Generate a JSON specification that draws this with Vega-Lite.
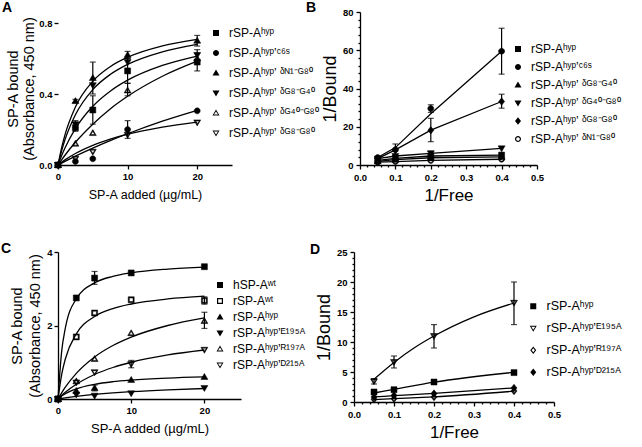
{
"$schema": "https://vega.github.io/schema/vega-lite/v6.json",
"padding": {"left": 1, "top": 1, "right": 0, "bottom": 0},
"config": {
 "font": "Liberation Sans",
 "view": {"stroke": null},
 "axis": {"grid": false, "domainColor": "black", "domainWidth": 1.3, "tickColor": "black", "tickWidth": 1.3, "tickSize": 4, "labelFont": "Liberation Sans", "labelFontSize": 9.5, "labelFontWeight": "bold", "labelColor": "black", "labelPadding": 2, "labelFlush": false, "labelOverlap": false, "titleFont": "Liberation Sans", "titleFontWeight": "normal", "titleColor": "black"},
 "legend": {"orient": "none", "padding": 0, "symbolSize": 100, "symbolStrokeWidth": 1.1, "labelFont": "Liberation Sans", "labelFontSize": 12, "labelColor": "black", "labelOffset": 7, "labelLimit": 300},
 "title": {"font": "Liberation Sans", "fontSize": 14, "fontWeight": "bold", "color": "black", "anchor": "start", "frame": "group", "offset": 0}
},
"datasets": {
 "A_pts": [
  {"s":"rSP-Aʰʸᵖ","x":0,"y":0},{"s":"rSP-Aʰʸᵖ","x":2.5,"y":0.21,"lo":0.19,"hi":0.24},{"s":"rSP-Aʰʸᵖ","x":5,"y":0.31,"lo":0.23,"hi":0.39},{"s":"rSP-Aʰʸᵖ","x":10,"y":0.53,"lo":0.46,"hi":0.6},{"s":"rSP-Aʰʸᵖ","x":20,"y":0.58,"lo":0.53,"hi":0.63},
  {"s":"rSP-Aʰʸᵖʼᶜ⁶ˢ","x":0,"y":0},{"s":"rSP-Aʰʸᵖʼᶜ⁶ˢ","x":2.5,"y":0.02},{"s":"rSP-Aʰʸᵖʼᶜ⁶ˢ","x":5,"y":0.035},{"s":"rSP-Aʰʸᵖʼᶜ⁶ˢ","x":10,"y":0.2,"lo":0.15,"hi":0.25},{"s":"rSP-Aʰʸᵖʼᶜ⁶ˢ","x":20,"y":0.305},
  {"s":"rSP-Aʰʸᵖʼ ᵟᴺ¹⁻ᴳ⁸⁰","x":0,"y":0},{"s":"rSP-Aʰʸᵖʼ ᵟᴺ¹⁻ᴳ⁸⁰","x":2.5,"y":0.36,"lo":0.35,"hi":0.37},{"s":"rSP-Aʰʸᵖʼ ᵟᴺ¹⁻ᴳ⁸⁰","x":5,"y":0.49,"lo":0.4,"hi":0.58},{"s":"rSP-Aʰʸᵖʼ ᵟᴺ¹⁻ᴳ⁸⁰","x":10,"y":0.62,"lo":0.6,"hi":0.64},{"s":"rSP-Aʰʸᵖʼ ᵟᴺ¹⁻ᴳ⁸⁰","x":20,"y":0.7,"lo":0.67,"hi":0.73},
  {"s":"rSP-Aʰʸᵖʼ ᵟᴳ⁸⁻ᴳ⁴⁰","x":0,"y":0},{"s":"rSP-Aʰʸᵖʼ ᵟᴳ⁸⁻ᴳ⁴⁰","x":2.5,"y":0.23,"lo":0.21,"hi":0.25},{"s":"rSP-Aʰʸᵖʼ ᵟᴳ⁸⁻ᴳ⁴⁰","x":5,"y":0.45},{"s":"rSP-Aʰʸᵖʼ ᵟᴳ⁸⁻ᴳ⁴⁰","x":10,"y":0.58},{"s":"rSP-Aʰʸᵖʼ ᵟᴳ⁸⁻ᴳ⁴⁰","x":20,"y":0.62,"lo":0.59,"hi":0.65},
  {"s":"rSP-Aʰʸᵖʼ ᵟᴳ⁴⁰⁻ᴳ⁸⁰","x":0,"y":0},{"s":"rSP-Aʰʸᵖʼ ᵟᴳ⁴⁰⁻ᴳ⁸⁰","x":2.5,"y":0.12},{"s":"rSP-Aʰʸᵖʼ ᵟᴳ⁴⁰⁻ᴳ⁸⁰","x":5,"y":0.18},{"s":"rSP-Aʰʸᵖʼ ᵟᴳ⁴⁰⁻ᴳ⁸⁰","x":10,"y":0.42,"lo":0.39,"hi":0.46},{"s":"rSP-Aʰʸᵖʼ ᵟᴳ⁴⁰⁻ᴳ⁸⁰","x":20,"y":0.6},
  {"s":"rSP-Aʰʸᵖʼ ᵟᴳ⁸⁻ᴳ⁸⁰","x":0,"y":0},{"s":"rSP-Aʰʸᵖʼ ᵟᴳ⁸⁻ᴳ⁸⁰","x":2.5,"y":0.035},{"s":"rSP-Aʰʸᵖʼ ᵟᴳ⁸⁻ᴳ⁸⁰","x":5,"y":0.075},{"s":"rSP-Aʰʸᵖʼ ᵟᴳ⁸⁻ᴳ⁸⁰","x":10,"y":0.17},{"s":"rSP-Aʰʸᵖʼ ᵟᴳ⁸⁻ᴳ⁸⁰","x":20,"y":0.24}
 ],
 "A_fit": [
  {"s":"N1","x":0,"y":0},{"s":"N1","x":0.5,"y":0.094},{"s":"N1","x":1,"y":0.17},{"s":"N1","x":2.5,"y":0.327},{"s":"N1","x":5,"y":0.472},{"s":"N1","x":7.5,"y":0.554},{"s":"N1","x":10,"y":0.607},{"s":"N1","x":15,"y":0.671},{"s":"N1","x":20,"y":0.708},
  {"s":"G840","x":0,"y":0},{"s":"G840","x":0.5,"y":0.077},{"s":"G840","x":1,"y":0.142},{"s":"G840","x":2.5,"y":0.283},{"s":"G840","x":5,"y":0.425},{"s":"G840","x":7.5,"y":0.51},{"s":"G840","x":10,"y":0.567},{"s":"G840","x":15,"y":0.638},{"s":"G840","x":20,"y":0.68},
  {"s":"H","x":0,"y":0},{"s":"H","x":0.5,"y":0.051},{"s":"H","x":1,"y":0.096},{"s":"H","x":2.5,"y":0.205},{"s":"H","x":5,"y":0.331},{"s":"H","x":7.5,"y":0.416},{"s":"H","x":10,"y":0.478},{"s":"H","x":15,"y":0.561},{"s":"H","x":20,"y":0.614},
  {"s":"G4080","x":0,"y":0},{"s":"G4080","x":0.5,"y":0.028},{"s":"G4080","x":1,"y":0.055},{"s":"G4080","x":2.5,"y":0.128},{"s":"G4080","x":5,"y":0.23},{"s":"G4080","x":7.5,"y":0.316},{"s":"G4080","x":10,"y":0.387},{"s":"G4080","x":15,"y":0.5},{"s":"G4080","x":20,"y":0.585},
  {"s":"C6","x":0,"y":0},{"s":"C6","x":0.5,"y":0.01},{"s":"C6","x":1,"y":0.02},{"s":"C6","x":2.5,"y":0.05},{"s":"C6","x":5,"y":0.095},{"s":"C6","x":7.5,"y":0.137},{"s":"C6","x":10,"y":0.176},{"s":"C6","x":15,"y":0.247},{"s":"C6","x":20,"y":0.308},
  {"s":"G880","x":0,"y":0},{"s":"G880","x":0.5,"y":0.015},{"s":"G880","x":1,"y":0.029},{"s":"G880","x":2.5,"y":0.065},{"s":"G880","x":5,"y":0.111},{"s":"G880","x":7.5,"y":0.146},{"s":"G880","x":10,"y":0.174},{"s":"G880","x":15,"y":0.214},{"s":"G880","x":20,"y":0.242}
 ],
 "B_pts": [
  {"s":"rSP-Aʰʸᵖ","x":0.05,"y":2.4},{"s":"rSP-Aʰʸᵖ","x":0.1,"y":3.5},{"s":"rSP-Aʰʸᵖ","x":0.2,"y":4.7},{"s":"rSP-Aʰʸᵖ","x":0.4,"y":5.2},
  {"s":"rSP-Aʰʸᵖʼᶜ⁶ˢ","x":0.05,"y":3.9},{"s":"rSP-Aʰʸᵖʼᶜ⁶ˢ","x":0.1,"y":8.0,"lo":5.0,"hi":11.0},{"s":"rSP-Aʰʸᵖʼᶜ⁶ˢ","x":0.2,"y":29.5,"lo":27.5,"hi":31.5},{"s":"rSP-Aʰʸᵖʼᶜ⁶ˢ","x":0.4,"y":59.5,"lo":47.5,"hi":71.5},
  {"s":"rSP-Aʰʸᵖʼ ᵟᴳ⁸⁻ᴳ⁴⁰","x":0.05,"y":1.9},{"s":"rSP-Aʰʸᵖʼ ᵟᴳ⁸⁻ᴳ⁴⁰","x":0.1,"y":2.8},{"s":"rSP-Aʰʸᵖʼ ᵟᴳ⁸⁻ᴳ⁴⁰","x":0.2,"y":3.8},{"s":"rSP-Aʰʸᵖʼ ᵟᴳ⁸⁻ᴳ⁴⁰","x":0.4,"y":4.2},
  {"s":"rSP-Aʰʸᵖʼ ᵟᴳ⁴⁰⁻ᴳ⁸⁰","x":0.05,"y":3.3},{"s":"rSP-Aʰʸᵖʼ ᵟᴳ⁴⁰⁻ᴳ⁸⁰","x":0.1,"y":4.7},{"s":"rSP-Aʰʸᵖʼ ᵟᴳ⁴⁰⁻ᴳ⁸⁰","x":0.2,"y":6.1,"lo":5.0,"hi":7.2},{"s":"rSP-Aʰʸᵖʼ ᵟᴳ⁴⁰⁻ᴳ⁸⁰","x":0.4,"y":8.7},
  {"s":"rSP-Aʰʸᵖʼ ᵟᴳ⁸⁻ᴳ⁸⁰","x":0.05,"y":3.3},{"s":"rSP-Aʰʸᵖʼ ᵟᴳ⁸⁻ᴳ⁸⁰","x":0.1,"y":7.9},{"s":"rSP-Aʰʸᵖʼ ᵟᴳ⁸⁻ᴳ⁸⁰","x":0.2,"y":18.2,"lo":12.2,"hi":24.4},{"s":"rSP-Aʰʸᵖʼ ᵟᴳ⁸⁻ᴳ⁸⁰","x":0.4,"y":33.2,"lo":29.7,"hi":37.0},
  {"s":"rSP-Aʰʸᵖʼ ᵟᴺ¹⁻ᴳ⁸⁰","x":0.05,"y":1.5},{"s":"rSP-Aʰʸᵖʼ ᵟᴺ¹⁻ᴳ⁸⁰","x":0.1,"y":1.8},{"s":"rSP-Aʰʸᵖʼ ᵟᴺ¹⁻ᴳ⁸⁰","x":0.2,"y":2.4},{"s":"rSP-Aʰʸᵖʼ ᵟᴺ¹⁻ᴳ⁸⁰","x":0.4,"y":3.0}
 ],
 "B_fit": [
  {"s":"H","x":0.05,"y":2.4},{"s":"H","x":0.1,"y":3.5},{"s":"H","x":0.2,"y":4.7},{"s":"H","x":0.4,"y":5.2},
  {"s":"C6","x":0.05,"y":3.9},{"s":"C6","x":0.1,"y":9.1},{"s":"C6","x":0.2,"y":26.8},{"s":"C6","x":0.4,"y":59.5},
  {"s":"G840","x":0.05,"y":1.9},{"s":"G840","x":0.1,"y":2.8},{"s":"G840","x":0.2,"y":3.8},{"s":"G840","x":0.4,"y":4.2},
  {"s":"G4080","x":0.05,"y":3.3},{"s":"G4080","x":0.1,"y":4.7},{"s":"G4080","x":0.2,"y":6.1},{"s":"G4080","x":0.4,"y":8.7},
  {"s":"G880","x":0.05,"y":3.3},{"s":"G880","x":0.1,"y":7.9},{"s":"G880","x":0.2,"y":18.2},{"s":"G880","x":0.4,"y":33.2},
  {"s":"N1","x":0.05,"y":1.5},{"s":"N1","x":0.1,"y":1.8},{"s":"N1","x":0.2,"y":2.4},{"s":"N1","x":0.4,"y":3.0}
 ],
 "C_pts": [
  {"s":"hSP-Aʷᵗ","x":0,"y":0},{"s":"hSP-Aʷᵗ","x":2.5,"y":2.75},{"s":"hSP-Aʷᵗ","x":5,"y":3.29,"lo":3.12,"hi":3.47},{"s":"hSP-Aʷᵗ","x":10,"y":3.43},{"s":"hSP-Aʷᵗ","x":20,"y":3.6},
  {"s":"rSP-Aʷᵗ","x":0,"y":0},{"s":"rSP-Aʷᵗ","x":2.5,"y":1.69},{"s":"rSP-Aʷᵗ","x":5,"y":2.34},{"s":"rSP-Aʷᵗ","x":10,"y":2.7},{"s":"rSP-Aʷᵗ","x":20,"y":2.68,"lo":2.58,"hi":2.78},
  {"s":"rSP-Aʰʸᵖ","x":0,"y":0},{"s":"rSP-Aʰʸᵖ","x":2.5,"y":0.22},{"s":"rSP-Aʰʸᵖ","x":5,"y":0.3,"lo":0.22,"hi":0.38},{"s":"rSP-Aʰʸᵖ","x":10,"y":0.52},{"s":"rSP-Aʰʸᵖ","x":20,"y":0.6},
  {"s":"rSP-Aʰʸᵖʼᴱ¹⁹⁵ᴬ","x":0,"y":0},{"s":"rSP-Aʰʸᵖʼᴱ¹⁹⁵ᴬ","x":2.5,"y":0.12},{"s":"rSP-Aʰʸᵖʼᴱ¹⁹⁵ᴬ","x":5,"y":0.09},{"s":"rSP-Aʰʸᵖʼᴱ¹⁹⁵ᴬ","x":10,"y":0.155},{"s":"rSP-Aʰʸᵖʼᴱ¹⁹⁵ᴬ","x":20,"y":0.3},
  {"s":"rSP-Aʰʸᵖʼᴿ¹⁹⁷ᴬ","x":0,"y":0},{"s":"rSP-Aʰʸᵖʼᴿ¹⁹⁷ᴬ","x":2.5,"y":0.48},{"s":"rSP-Aʰʸᵖʼᴿ¹⁹⁷ᴬ","x":5,"y":1.09},{"s":"rSP-Aʰʸᵖʼᴿ¹⁹⁷ᴬ","x":10,"y":1.79},{"s":"rSP-Aʰʸᵖʼᴿ¹⁹⁷ᴬ","x":20,"y":2.12,"lo":1.92,"hi":2.36},
  {"s":"rSP-Aʰʸᵖʼᴰ²¹⁵ᴬ","x":0,"y":0},{"s":"rSP-Aʰʸᵖʼᴰ²¹⁵ᴬ","x":2.5,"y":0.45},{"s":"rSP-Aʰʸᵖʼᴰ²¹⁵ᴬ","x":5,"y":0.73},{"s":"rSP-Aʰʸᵖʼᴰ²¹⁵ᴬ","x":10,"y":0.95,"lo":0.85,"hi":1.05},{"s":"rSP-Aʰʸᵖʼᴰ²¹⁵ᴬ","x":20,"y":1.34}
 ],
 "C_fit": [
  {"s":"W1","x":0,"y":0},{"s":"W1","x":0.5,"y":1.297},{"s":"W1","x":1,"y":1.928},{"s":"W1","x":2.5,"y":2.725},{"s":"W1","x":5,"y":3.16},{"s":"W1","x":7.5,"y":3.337},{"s":"W1","x":10,"y":3.434},{"s":"W1","x":15,"y":3.536},{"s":"W1","x":20,"y":3.59},
  {"s":"W2","x":0,"y":0},{"s":"W2","x":0.5,"y":0.663},{"s":"W2","x":1,"y":1.089},{"s":"W2","x":2.5,"y":1.773},{"s":"W2","x":5,"y":2.243},{"s":"W2","x":7.5,"y":2.46},{"s":"W2","x":10,"y":2.585},{"s":"W2","x":15,"y":2.723},{"s":"W2","x":20,"y":2.798},
  {"s":"R","x":0,"y":0},{"s":"R","x":0.5,"y":0.168},{"s":"R","x":1,"y":0.32},{"s":"R","x":2.5,"y":0.696},{"s":"R","x":5,"y":1.143},{"s":"R","x":7.5,"y":1.455},{"s":"R","x":10,"y":1.684},{"s":"R","x":15,"y":2.0},{"s":"R","x":20,"y":2.207},
  {"s":"D","x":0,"y":0},{"s":"D","x":0.5,"y":0.095},{"s":"D","x":1,"y":0.182},{"s":"D","x":2.5,"y":0.4},{"s":"D","x":5,"y":0.667},{"s":"D","x":7.5,"y":0.857},{"s":"D","x":10,"y":1.0},{"s":"D","x":15,"y":1.2},{"s":"D","x":20,"y":1.333},
  {"s":"Hy","x":0,"y":0},{"s":"Hy","x":0.5,"y":0.08},{"s":"Hy","x":1,"y":0.144},{"s":"Hy","x":2.5,"y":0.277},{"s":"Hy","x":5,"y":0.4},{"s":"Hy","x":7.5,"y":0.47},{"s":"Hy","x":10,"y":0.514},{"s":"Hy","x":15,"y":0.568},{"s":"Hy","x":20,"y":0.6},
  {"s":"E","x":0,"y":0},{"s":"E","x":0.5,"y":0.016},{"s":"E","x":1,"y":0.031},{"s":"E","x":2.5,"y":0.071},{"s":"E","x":5,"y":0.125},{"s":"E","x":7.5,"y":0.167},{"s":"E","x":10,"y":0.2},{"s":"E","x":15,"y":0.25},{"s":"E","x":20,"y":0.286}
 ],
 "D_pts": [
  {"s":"rSP-Aʰʸᵖ","x":0.05,"y":1.67},{"s":"rSP-Aʰʸᵖ","x":0.1,"y":2.05},{"s":"rSP-Aʰʸᵖ","x":0.2,"y":3.33},{"s":"rSP-Aʰʸᵖ","x":0.4,"y":4.9},
  {"s":"rSP-Aʰʸᵖʼᴱ¹⁹⁵ᴬ","x":0.05,"y":3.44,"lo":3.0,"hi":3.9},{"s":"rSP-Aʰʸᵖʼᴱ¹⁹⁵ᴬ","x":0.1,"y":6.67,"lo":5.67,"hi":7.67},{"s":"rSP-Aʰʸᵖʼᴱ¹⁹⁵ᴬ","x":0.2,"y":11.0,"lo":9.0,"hi":12.9},{"s":"rSP-Aʰʸᵖʼᴱ¹⁹⁵ᴬ","x":0.4,"y":16.55,"lo":12.9,"hi":20.0},
  {"s":"rSP-Aʰʸᵖʼᴿ¹⁹⁷ᴬ","x":0.05,"y":0.45},{"s":"rSP-Aʰʸᵖʼᴿ¹⁹⁷ᴬ","x":0.1,"y":0.55},{"s":"rSP-Aʰʸᵖʼᴿ¹⁹⁷ᴬ","x":0.2,"y":0.83},{"s":"rSP-Aʰʸᵖʼᴿ¹⁹⁷ᴬ","x":0.4,"y":1.83},
  {"s":"rSP-Aʰʸᵖʼᴰ²¹⁵ᴬ","x":0.05,"y":0.83},{"s":"rSP-Aʰʸᵖʼᴰ²¹⁵ᴬ","x":0.1,"y":1.1},{"s":"rSP-Aʰʸᵖʼᴰ²¹⁵ᴬ","x":0.2,"y":1.4},{"s":"rSP-Aʰʸᵖʼᴰ²¹⁵ᴬ","x":0.4,"y":2.33}
 ],
 "D_fit": [
  {"s":"E","x":0.05,"y":3.8},{"s":"E","x":0.1,"y":6.6},{"s":"E","x":0.15,"y":9.0},{"s":"E","x":0.2,"y":11.0},{"s":"E","x":0.3,"y":14.2},{"s":"E","x":0.4,"y":16.5},
  {"s":"Hy","x":0.05,"y":1.5},{"s":"Hy","x":0.1,"y":2.1},{"s":"Hy","x":0.2,"y":3.3},{"s":"Hy","x":0.4,"y":4.95},
  {"s":"R","x":0.05,"y":0.4},{"s":"R","x":0.1,"y":0.55},{"s":"R","x":0.2,"y":0.85},{"s":"R","x":0.4,"y":1.8},
  {"s":"D","x":0.05,"y":0.85},{"s":"D","x":0.1,"y":1.05},{"s":"D","x":0.2,"y":1.45},{"s":"D","x":0.4,"y":2.35}
 ]
},
"spacing": 38,
"vconcat": [
 {"spacing": 128, "bounds": "flush", "hconcat": [
  {"width": 174, "height": 153,
   "title": {"text": "A", "dx": -56, "dy": 7},
   "layer": [
    {"data": {"name": "A_fit"}, "mark": {"type": "line", "interpolate": "monotone", "color": "black", "strokeWidth": 1.3},
     "encoding": {"x": {"field": "x", "type": "quantitative", "scale": {"domain": [0, 25], "nice": false}, "axis": {"values": [0,5,10,15,20,25], "title": "SP-A added (µg/mL)", "titleFontSize": 12.5, "titlePadding": 8}},
                  "y": {"field": "y", "type": "quantitative", "scale": {"domain": [0, 0.862], "nice": false}, "axis": {"values": [0,0.2,0.4,0.6,0.8], "format": ".1f", "domain": false, "title": ["SP-A bound", "(Absorbance, 450 nm)"], "titleFontSize": 14.5, "titleLineHeight": 16.5, "titlePadding": 2}},
                  "detail": {"field": "s"}}},
    {"mark": {"type": "rule", "color": "black", "strokeWidth": 1.3},
     "encoding": {"x": {"datum": 0, "type": "quantitative"}, "y": {"datum": 0, "type": "quantitative"}, "y2": {"datum": 0.8}}},
    {"data": {"name": "A_pts"}, "transform": [{"filter": "datum.lo != null"}], "mark": {"type": "errorbar", "color": "black", "ticks": {"size": 6, "thickness": 1.2}, "rule": {"strokeWidth": 1.2}},
     "encoding": {"x": {"field": "x", "type": "quantitative", "title": "SP-A added (µg/mL)"}, "y": {"field": "lo", "type": "quantitative", "title": ["SP-A bound", "(Absorbance, 450 nm)"]}, "y2": {"field": "hi"}}},
    {"data": {"name": "A_pts"}, "mark": {"type": "point", "filled": true, "size": 100, "fill": "black", "stroke": "black", "strokeWidth": 0.5, "opacity": 1},
     "encoding": {"x": {"field": "x", "type": "quantitative"}, "y": {"field": "y", "type": "quantitative"},
      "shape": {"field": "s", "type": "nominal", "legend": null, "scale": {"domain": ["rSP-Aʰʸᵖ","rSP-Aʰʸᵖʼᶜ⁶ˢ","rSP-Aʰʸᵖʼ ᵟᴺ¹⁻ᴳ⁸⁰","rSP-Aʰʸᵖʼ ᵟᴳ⁸⁻ᴳ⁴⁰","rSP-Aʰʸᵖʼ ᵟᴳ⁴⁰⁻ᴳ⁸⁰","rSP-Aʰʸᵖʼ ᵟᴳ⁸⁻ᴳ⁸⁰"],
        "range": ["M-0.6,-0.6H0.6V0.6H-0.6Z", "M-0.6,0A0.6,0.6,0,1,1,0.6,0A0.6,0.6,0,1,1,-0.6,0Z", "M0,-0.7L0.7,0.5H-0.7Z", "M0,0.7L-0.7,-0.5H0.7Z", "M0,-0.7L0.7,0.5H-0.7ZM0,-0.32L-0.4,0.3H0.4Z", "M0,0.7L-0.7,-0.5H0.7ZM0,0.32L0.4,-0.3H-0.4Z"]}}}},
    {"data": {"name": "A_pts"}, "transform": [{"filter": "false"}], "mark": {"type": "point", "filled": true, "fill": "black", "stroke": "black", "strokeWidth": 1.1},
     "encoding": {"x": {"field": "x", "type": "quantitative"}, "y": {"field": "y", "type": "quantitative"},
      "shape": {"field": "s", "type": "nominal", "legend": {"title": null, "legendX": 152, "legendY": 15, "rowPadding": 8, "symbolOpacity": 1, "symbolStrokeColor": "black", "symbolFillColor": "black"}, "scale": {"domain": ["rSP-Aʰʸᵖ","rSP-Aʰʸᵖʼᶜ⁶ˢ","rSP-Aʰʸᵖʼ ᵟᴺ¹⁻ᴳ⁸⁰","rSP-Aʰʸᵖʼ ᵟᴳ⁸⁻ᴳ⁴⁰","rSP-Aʰʸᵖʼ ᵟᴳ⁴⁰⁻ᴳ⁸⁰","rSP-Aʰʸᵖʼ ᵟᴳ⁸⁻ᴳ⁸⁰"],
        "range": ["M-1.1,0H1.1M-0.6,-0.6H0.6V0.6H-0.6Z", "M-1.1,0H1.1M-0.6,0A0.6,0.6,0,1,1,0.6,0A0.6,0.6,0,1,1,-0.6,0Z", "M-1.1,0H1.1M0,-0.7L0.7,0.5H-0.7Z", "M-1.1,0H1.1M0,0.7L-0.7,-0.5H0.7Z", "M-1.1,0H-0.42M0.42,0H1.1M0,-0.7L0.7,0.5H-0.7ZM0,-0.32L-0.4,0.3H0.4Z", "M-1.1,0H-0.42M0.42,0H1.1M0,0.7L-0.7,-0.5H0.7ZM0,0.32L0.4,-0.3H-0.4Z"]}}}}
   ],
   "resolve": {"scale": {"shape": "independent"}}
  },
  {"width": 177, "height": 153,
   "title": {"text": "B", "dx": -54, "dy": 12},
   "layer": [
    {"data": {"name": "B_fit"}, "mark": {"type": "line", "color": "black", "strokeWidth": 1.3},
     "encoding": {"x": {"field": "x", "type": "quantitative", "scale": {"domain": [0, 0.5], "nice": false}, "axis": {"orient": "bottom", "values": [0,0.1,0.2,0.3,0.4,0.5], "format": ".1f", "labelPadding": 3, "title": "1/Free", "titleFontSize": 17, "titlePadding": 6}},
                  "y": {"field": "y", "type": "quantitative", "scale": {"domain": [0, 80], "nice": false}, "axis": {"orient": "left", "values": [0,20,40,60,80], "format": "d", "labelPadding": 3, "title": "1/Bound", "titleFontSize": 18, "titlePadding": 3}},
                  "detail": {"field": "s"}}},
    {"data": {"name": "B_pts"}, "transform": [{"filter": "datum.lo != null"}], "mark": {"type": "errorbar", "color": "black", "ticks": {"size": 6, "thickness": 1.2}, "rule": {"strokeWidth": 1.2}},
     "encoding": {"x": {"field": "x", "type": "quantitative", "axis": null}, "y": {"field": "lo", "type": "quantitative", "axis": null}, "y2": {"field": "hi"}}},
    {"data": {"name": "B_pts"}, "mark": {"type": "point", "filled": true, "size": 100, "fill": "black", "stroke": "black", "strokeWidth": 0.5, "opacity": 1},
     "encoding": {"x": {"field": "x", "type": "quantitative", "axis": null}, "y": {"field": "y", "type": "quantitative", "axis": null},
      "shape": {"field": "s", "type": "nominal", "legend": null, "scale": {"domain": ["rSP-Aʰʸᵖ","rSP-Aʰʸᵖʼᶜ⁶ˢ","rSP-Aʰʸᵖʼ ᵟᴳ⁸⁻ᴳ⁴⁰","rSP-Aʰʸᵖʼ ᵟᴳ⁴⁰⁻ᴳ⁸⁰","rSP-Aʰʸᵖʼ ᵟᴳ⁸⁻ᴳ⁸⁰","rSP-Aʰʸᵖʼ ᵟᴺ¹⁻ᴳ⁸⁰"],
        "range": ["M-0.6,-0.6H0.6V0.6H-0.6Z", "M-0.6,0A0.6,0.6,0,1,1,0.6,0A0.6,0.6,0,1,1,-0.6,0Z", "M0,-0.7L0.7,0.5H-0.7Z", "M0,0.7L-0.7,-0.5H0.7Z", "M0,-0.75L0.6,0L0,0.75L-0.6,0Z", "M-0.6,0A0.6,0.6,0,1,1,0.6,0A0.6,0.6,0,1,1,-0.6,0ZM-0.36,0A0.36,0.36,0,1,0,0.36,0A0.36,0.36,0,1,0,-0.36,0Z"]}}}},
    {"data": {"name": "B_pts"}, "transform": [{"filter": "false"}], "mark": {"type": "point", "filled": true, "fill": "black", "stroke": "black", "strokeWidth": 1.1},
     "encoding": {"x": {"field": "x", "type": "quantitative", "axis": {"orient": "bottom", "values": [0.02,0.04,0.06,0.08,0.12,0.14,0.16,0.18,0.22,0.24,0.26,0.28,0.32,0.34,0.36,0.38,0.42,0.44,0.46,0.48], "labels": false, "domain": false, "tickSize": 2, "title": null}},
                  "y": {"field": "y", "type": "quantitative", "axis": {"orient": "left", "values": [4,8,12,16,24,28,32,36,44,48,52,56,64,68,72,76], "labels": false, "domain": false, "tickSize": 2, "title": null}},
      "shape": {"field": "s", "type": "nominal", "legend": {"title": null, "legendX": 152, "legendY": 31, "rowPadding": 6, "symbolOpacity": 1, "symbolStrokeColor": "black", "symbolFillColor": "black"}, "scale": {"domain": ["rSP-Aʰʸᵖ","rSP-Aʰʸᵖʼᶜ⁶ˢ","rSP-Aʰʸᵖʼ ᵟᴳ⁸⁻ᴳ⁴⁰","rSP-Aʰʸᵖʼ ᵟᴳ⁴⁰⁻ᴳ⁸⁰","rSP-Aʰʸᵖʼ ᵟᴳ⁸⁻ᴳ⁸⁰","rSP-Aʰʸᵖʼ ᵟᴺ¹⁻ᴳ⁸⁰"],
        "range": ["M-1.1,0H1.1M-0.6,-0.6H0.6V0.6H-0.6Z", "M-1.1,0H1.1M-0.6,0A0.6,0.6,0,1,1,0.6,0A0.6,0.6,0,1,1,-0.6,0Z", "M-1.1,0H1.1M0,-0.7L0.7,0.5H-0.7Z", "M-1.1,0H1.1M0,0.7L-0.7,-0.5H0.7Z", "M-1.1,0H1.1M0,-0.75L0.6,0L0,0.75L-0.6,0Z", "M-1.1,0H-0.6M0.6,0H1.1M-0.6,0A0.6,0.6,0,1,1,0.6,0A0.6,0.6,0,1,1,-0.6,0ZM-0.36,0A0.36,0.36,0,1,0,0.36,0A0.36,0.36,0,1,0,-0.36,0Z"]}}}}
   ],
   "resolve": {"scale": {"shape": "independent"}, "axis": {"x": "independent", "y": "independent"}}
  }
 ]},
 {"spacing": 113, "bounds": "flush", "hconcat": [
  {"width": 183, "height": 147,
   "title": {"text": "C", "dx": -57, "dy": 13},
   "layer": [
    {"data": {"name": "C_fit"}, "mark": {"type": "line", "interpolate": "monotone", "color": "black", "strokeWidth": 1.3},
     "encoding": {"x": {"field": "x", "type": "quantitative", "scale": {"domain": [0, 25], "nice": false}, "axis": {"values": [0,5,10,15,20,25], "title": "SP-A added (µg/mL)", "titleFontSize": 13, "titlePadding": 8}},
                  "y": {"field": "y", "type": "quantitative", "scale": {"domain": [0, 4], "nice": false}, "axis": {"values": [0,1,2,3,4], "format": "d", "title": ["SP-A bound", "(Absorbance, 450 nm)"], "titleFontSize": 14.5, "titleLineHeight": 18, "titlePadding": 4}},
                  "detail": {"field": "s"}}},
    {"data": {"name": "C_pts"}, "transform": [{"filter": "datum.lo != null"}], "mark": {"type": "errorbar", "color": "black", "ticks": {"size": 6, "thickness": 1.2}, "rule": {"strokeWidth": 1.2}},
     "encoding": {"x": {"field": "x", "type": "quantitative", "title": "SP-A added (µg/mL)"}, "y": {"field": "lo", "type": "quantitative", "title": ["SP-A bound", "(Absorbance, 450 nm)"]}, "y2": {"field": "hi"}}},
    {"data": {"name": "C_pts"}, "mark": {"type": "point", "filled": true, "size": 100, "fill": "black", "stroke": "black", "strokeWidth": 0.5, "opacity": 1},
     "encoding": {"x": {"field": "x", "type": "quantitative"}, "y": {"field": "y", "type": "quantitative"},
      "shape": {"field": "s", "type": "nominal", "legend": null, "scale": {"domain": ["hSP-Aʷᵗ","rSP-Aʷᵗ","rSP-Aʰʸᵖ","rSP-Aʰʸᵖʼᴱ¹⁹⁵ᴬ","rSP-Aʰʸᵖʼᴿ¹⁹⁷ᴬ","rSP-Aʰʸᵖʼᴰ²¹⁵ᴬ"],
        "range": ["M-0.6,-0.6H0.6V0.6H-0.6Z", "M-0.6,-0.6H0.6V0.6H-0.6ZM-0.36,-0.36V0.36H0.36V-0.36Z", "M0,-0.7L0.7,0.5H-0.7Z", "M0,0.7L-0.7,-0.5H0.7Z", "M0,-0.7L0.7,0.5H-0.7ZM0,-0.32L-0.4,0.3H0.4Z", "M0,0.7L-0.7,-0.5H0.7ZM0,0.32L0.4,-0.3H-0.4Z"]}}}},
    {"data": {"name": "C_pts"}, "transform": [{"filter": "false"}], "mark": {"type": "point", "filled": true, "fill": "black", "stroke": "black", "strokeWidth": 1.1},
     "encoding": {"x": {"field": "x", "type": "quantitative"}, "y": {"field": "y", "type": "quantitative"},
      "shape": {"field": "s", "type": "nominal", "legend": {"title": null, "legendX": 156, "legendY": 27, "rowPadding": 4, "symbolOpacity": 1, "symbolStrokeColor": "black", "symbolFillColor": "black"}, "scale": {"domain": ["hSP-Aʷᵗ","rSP-Aʷᵗ","rSP-Aʰʸᵖ","rSP-Aʰʸᵖʼᴱ¹⁹⁵ᴬ","rSP-Aʰʸᵖʼᴿ¹⁹⁷ᴬ","rSP-Aʰʸᵖʼᴰ²¹⁵ᴬ"],
        "range": ["M-1.1,0H1.1M-0.6,-0.6H0.6V0.6H-0.6Z", "M-1.1,0H-0.6M0.6,0H1.1M-0.6,-0.6H0.6V0.6H-0.6ZM-0.36,-0.36V0.36H0.36V-0.36Z", "M-1.1,0H1.1M0,-0.7L0.7,0.5H-0.7Z", "M-1.1,0H1.1M0,0.7L-0.7,-0.5H0.7Z", "M-1.1,0H-0.42M0.42,0H1.1M0,-0.7L0.7,0.5H-0.7ZM0,-0.32L-0.4,0.3H0.4Z", "M-1.1,0H-0.42M0.42,0H1.1M0,0.7L-0.7,-0.5H0.7ZM0,0.32L0.4,-0.3H-0.4Z"]}}}}
   ],
   "resolve": {"scale": {"shape": "independent"}}
  },
  {"width": 200, "height": 150,
   "title": {"text": "D", "dx": -44, "dy": 14},
   "layer": [
    {"data": {"name": "D_fit"}, "mark": {"type": "line", "interpolate": "monotone", "color": "black", "strokeWidth": 1.3},
     "encoding": {"x": {"field": "x", "type": "quantitative", "scale": {"domain": [0, 0.5], "nice": false}, "axis": {"orient": "bottom", "values": [0,0.1,0.2,0.3,0.4,0.5], "format": ".1f", "labelPadding": 3, "title": "1/Free", "titleFontSize": 17, "titlePadding": 6}},
                  "y": {"field": "y", "type": "quantitative", "scale": {"domain": [0, 25], "nice": false}, "axis": {"orient": "left", "values": [0,5,10,15,20,25], "format": "d", "labelPadding": 3, "title": "1/Bound", "titleFontSize": 18, "titlePadding": 3}},
                  "detail": {"field": "s"}}},
    {"data": {"name": "D_pts"}, "transform": [{"filter": "datum.lo != null"}], "mark": {"type": "errorbar", "color": "black", "ticks": {"size": 6, "thickness": 1.2}, "rule": {"strokeWidth": 1.2}},
     "encoding": {"x": {"field": "x", "type": "quantitative", "axis": null}, "y": {"field": "lo", "type": "quantitative", "axis": null}, "y2": {"field": "hi"}}},
    {"data": {"name": "D_pts"}, "mark": {"type": "point", "filled": true, "size": 100, "fill": "black", "stroke": "black", "strokeWidth": 0.5, "opacity": 1},
     "encoding": {"x": {"field": "x", "type": "quantitative", "axis": null}, "y": {"field": "y", "type": "quantitative", "axis": null},
      "shape": {"field": "s", "type": "nominal", "legend": null, "scale": {"domain": ["rSP-Aʰʸᵖ","rSP-Aʰʸᵖʼᴱ¹⁹⁵ᴬ","rSP-Aʰʸᵖʼᴿ¹⁹⁷ᴬ","rSP-Aʰʸᵖʼᴰ²¹⁵ᴬ"],
        "range": ["M-0.6,-0.6H0.6V0.6H-0.6Z", "M0,0.7L-0.7,-0.5H0.7ZM0,0.32L0.4,-0.3H-0.4Z", "M0,-0.75L0.6,0L0,0.75L-0.6,0ZM0,-0.42L-0.32,0L0,0.42L0.32,0Z", "M0,-0.75L0.6,0L0,0.75L-0.6,0Z"]}}}},
    {"data": {"name": "D_pts"}, "transform": [{"filter": "false"}], "mark": {"type": "point", "filled": true, "fill": "black", "stroke": "black", "strokeWidth": 1.1},
     "encoding": {"x": {"field": "x", "type": "quantitative", "axis": {"orient": "bottom", "values": [0.02,0.04,0.06,0.08,0.12,0.14,0.16,0.18,0.22,0.24,0.26,0.28,0.32,0.34,0.36,0.38,0.42,0.44,0.46,0.48], "labels": false, "domain": false, "tickSize": 2, "title": null}},
                  "y": {"field": "y", "type": "quantitative", "axis": {"orient": "left", "values": [1,2,3,4,6,7,8,9,11,12,13,14,16,17,18,19,21,22,23,24], "labels": false, "domain": false, "tickSize": 2, "title": null}},
      "shape": {"field": "s", "type": "nominal", "legend": {"title": null, "legendX": 173, "legendY": 48, "rowPadding": 9, "labelFontSize": 12.5, "symbolOpacity": 1, "symbolStrokeColor": "black", "symbolFillColor": "black"}, "scale": {"domain": ["rSP-Aʰʸᵖ","rSP-Aʰʸᵖʼᴱ¹⁹⁵ᴬ","rSP-Aʰʸᵖʼᴿ¹⁹⁷ᴬ","rSP-Aʰʸᵖʼᴰ²¹⁵ᴬ"],
        "range": ["M-1.1,0H1.1M-0.6,-0.6H0.6V0.6H-0.6Z", "M-1.1,0H-0.42M0.42,0H1.1M0,0.7L-0.7,-0.5H0.7ZM0,0.32L0.4,-0.3H-0.4Z", "M-1.1,0H-0.6M0.6,0H1.1M0,-0.75L0.6,0L0,0.75L-0.6,0ZM0,-0.42L-0.32,0L0,0.42L0.32,0Z", "M-1.1,0H1.1M0,-0.75L0.6,0L0,0.75L-0.6,0Z"]}}}}
   ],
   "resolve": {"scale": {"shape": "independent"}, "axis": {"x": "independent", "y": "independent"}}
  }
 ]}
]
}
